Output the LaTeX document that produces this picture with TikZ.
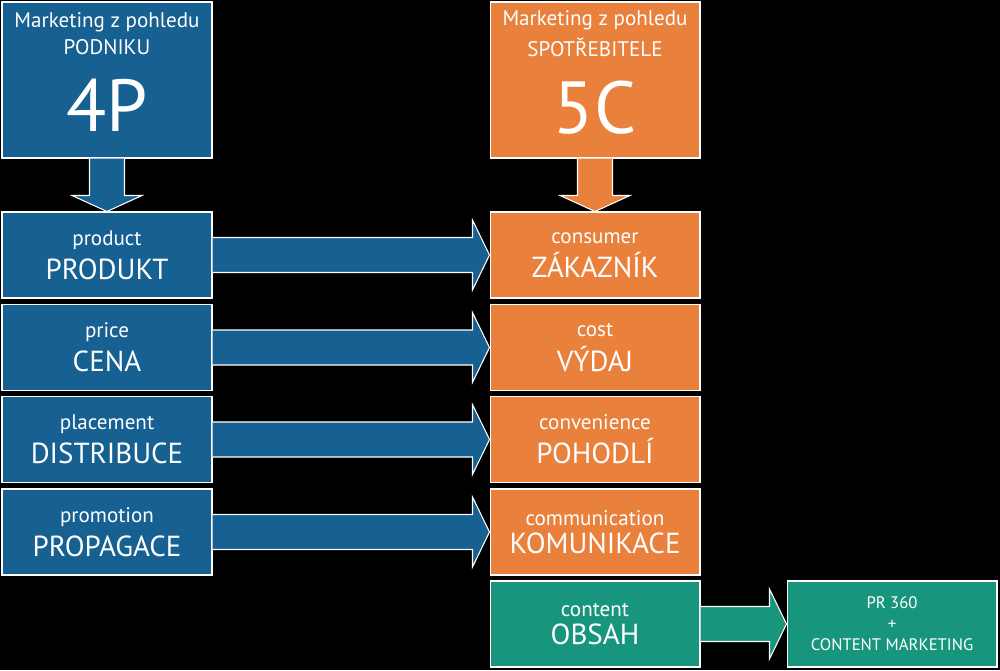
\documentclass[tikz,border=0pt]{standalone}
\usepackage{fontspec}
\setmainfont{PT Sans}
\usetikzlibrary{calc}
\definecolor{cblue}{RGB}{22,96,146}
\definecolor{corange}{RGB}{233,128,60}
\definecolor{cteal}{RGB}{23,150,125}
\tikzset{
  box/.style={draw=white, line width=0.6pt, text=white, align=center,
    minimum width=4.2cm, minimum height=1.72cm, inner sep=0pt},
  headbox/.style={box, minimum height=3.12cm},
  blk/.style={draw=white, line width=0.6pt, line join=miter},
}
\newcommand\pair[2]{{\fontsize{12}{14}\selectfont #1}\\[4pt]{\fontsize{16.5}{19}\selectfont #2}}
\newcommand\headtext[3]{{\fontsize{12}{15}\selectfont #1}\\[3.5pt]{\fontsize{12}{15}\selectfont #2}\\[12.5pt]%
  {\fontsize{42}{42}\selectfont #3}\rule[-9pt]{0pt}{1pt}}
% block arrows between nodes
\newcommand\harrow[3]{%
  \filldraw[blk, fill=#3] ($(#1.east)+(0,-17.5)$) -- ($(#2.west)+(-17,-17.5)$)
    -- ($(#2.west)+(-17,-35)$) -- (#2.west) -- ($(#2.west)+(-17,35)$)
    -- ($(#2.west)+(-17,17.5)$) -- ($(#1.east)+(0,17.5)$);}
\newcommand\varrow[3]{%
  \filldraw[blk, fill=#3] ($(#1.south)+(-17.5,0)$) -- ($(#2.north)+(-17.5,-16)$)
    -- ($(#2.north)+(-35,-16)$) -- (#2.north) -- ($(#2.north)+(35,-16)$)
    -- ($(#2.north)+(17.5,-16)$) -- ($(#1.south)+(17.5,0)$);}
\begin{document}
\begin{tikzpicture}[x=0.02cm, y=-0.02cm]
  \fill[black] (0,0) rectangle (1000,670);
  \useasboundingbox (0,0) rectangle (1000,670);

  % company view
  \node[headbox, fill=cblue] (p4) at (107,80) {\headtext{Marketing z pohledu}{PODNIKU}{4P}};
  \node[box, fill=cblue] (p1) at (107,255) {\pair{product}{PRODUKT}};
  \node[box, fill=cblue] (p2) at (107,347.5) {\pair{price}{CENA}};
  \node[box, fill=cblue] (p3) at (107,439.5) {\pair{placement}{DISTRIBUCE}};
  \node[box, fill=cblue] (pp) at (107,532) {\pair{promotion}{PROPAGACE}};

  % consumer view
  \node[headbox, fill=corange] (c5) at (595,80) {\headtext{Marketing z pohledu}{SPOTŘEBITELE}{5C}};
  \node[box, fill=corange] (c1) at (595,255) {\pair{consumer}{ZÁKAZNÍK}};
  \node[box, fill=corange] (c2) at (595,347.5) {\pair{cost}{VÝDAJ}};
  \node[box, fill=corange] (c3) at (595,439.5) {\pair{convenience}{POHODLÍ}};
  \node[box, fill=corange] (cc) at (595,532) {\pair{communication}{KOMUNIKACE}};
  \node[box, fill=cteal] (co) at (595,624) {\pair{content}{OBSAH}};

  \node[box, fill=cteal, font=\fontsize{9.5}{12}\selectfont] (pr) at (892,624)
    {PR 360\\+\\CONTENT MARKETING};

  \varrow{p4}{p1}{cblue}
  \varrow{c5}{c1}{corange}
  \harrow{p1}{c1}{cblue}
  \harrow{p2}{c2}{cblue}
  \harrow{p3}{c3}{cblue}
  \harrow{pp}{cc}{cblue}
  \harrow{co}{pr}{cteal}
\end{tikzpicture}
\end{document}
